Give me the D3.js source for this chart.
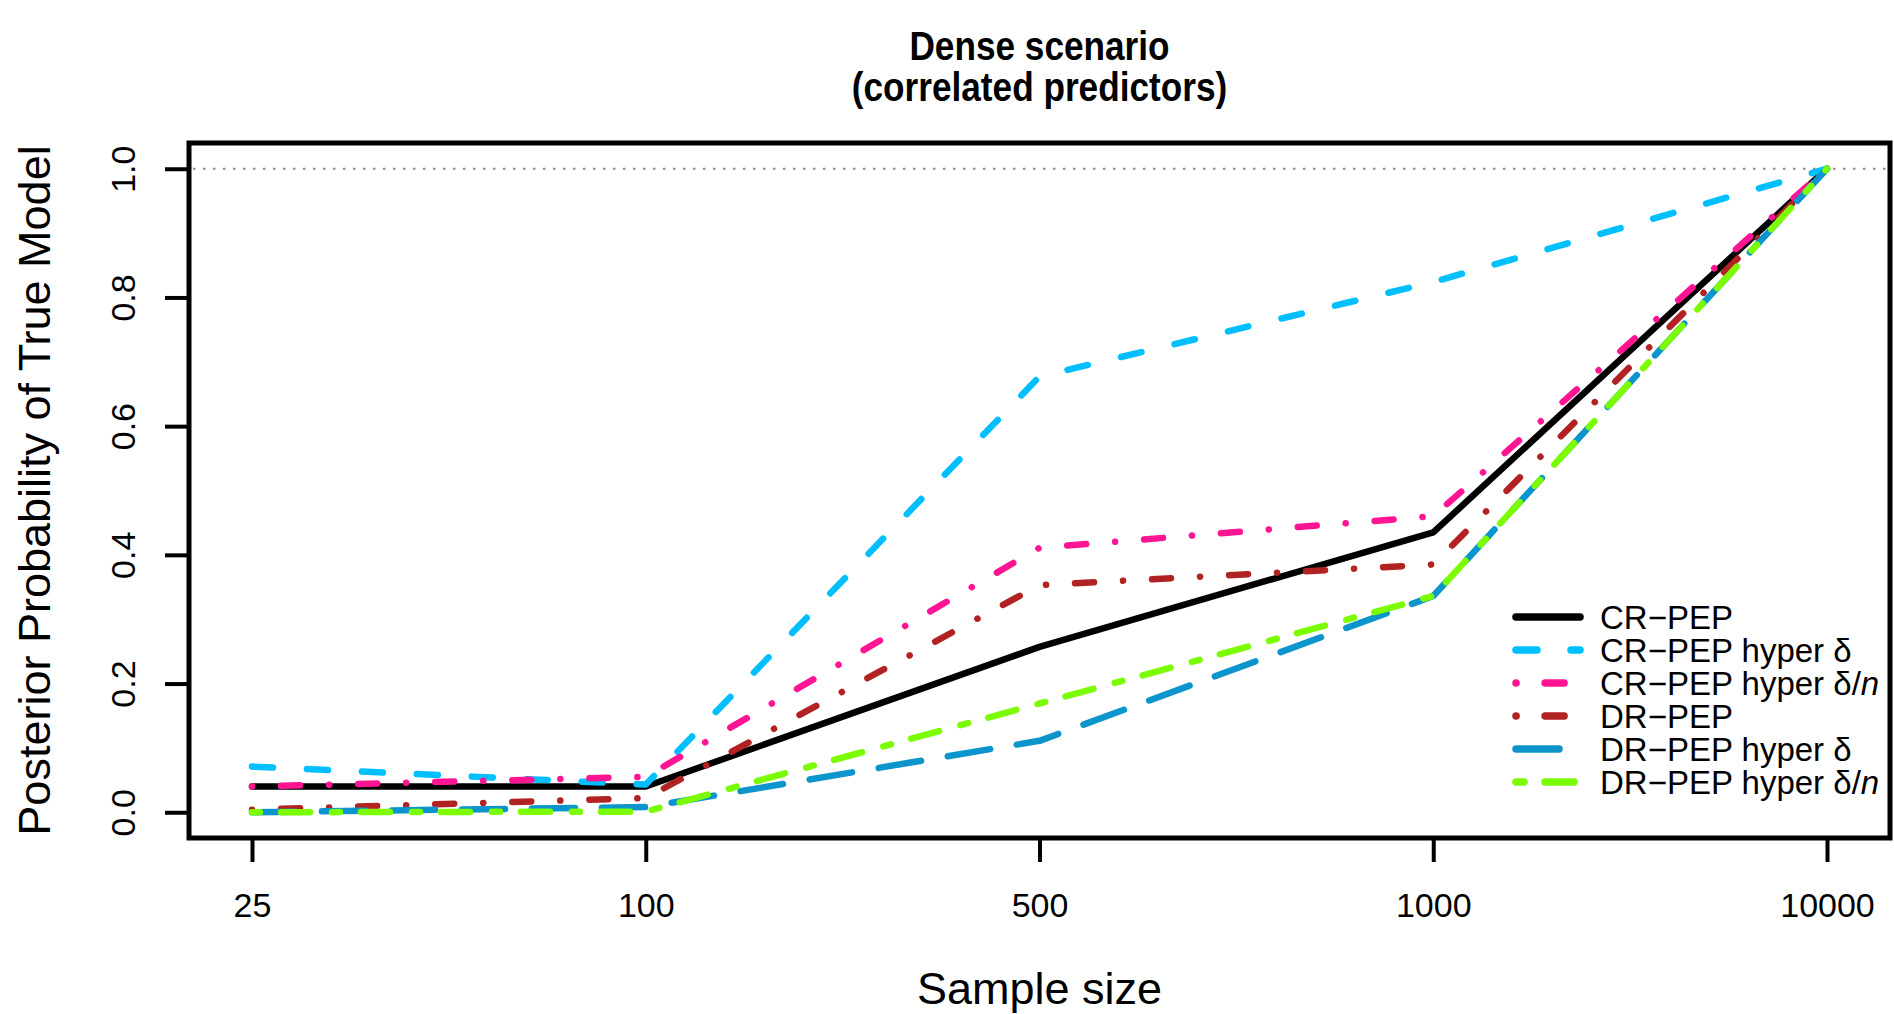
<!DOCTYPE html>
<html lang="en">
<head>
    <meta charset="UTF-8">
    <title>Dense scenario (correlated predictors)</title>
    <script src="https://d3js.org/d3.v7.min.js"></script>
    <style>
        body { margin: 0; background: #fff; font-family: "Liberation Sans", Arial, sans-serif; }
        svg text { font-family: "Liberation Sans", Arial, sans-serif; fill: #000; }
    </style>
</head>
<body>
    <div id="chart"></div>
    <script>
        // sample sizes (equally spaced categories on the x axis)
        const categories = ["25", "100", "500", "1000", "10000"];

        // posterior probability of the true model, one array per method
        const crPep       = [0.040, 0.040, 0.257, 0.435, 1.0];
        const crPepHyperD = [0.071, 0.043, 0.677, 0.824, 1.0];
        const crPepHyperN = [0.040, 0.055, 0.411, 0.460, 1.0];
        const drPep       = [0.004, 0.022, 0.353, 0.385, 1.0];
        const drPepHyperD = [0.000, 0.008, 0.111, 0.336, 1.0];
        const drPepHyperN = [0.000, 0.001, 0.169, 0.336, 1.0];

        const yTicks = [0, 0.2, 0.4, 0.6, 0.8, 1.0];

        const series = [
            { name: "CR\u2212PEP", hyper: null, values: crPep, color: "#000000", dash: null },
            { name: "CR\u2212PEP hyper ", hyper: "d", values: crPepHyperD, color: "#00BFFF", dash: "21,34" },
            { name: "CR\u2212PEP hyper ", hyper: "dn", values: crPepHyperN, color: "#FF1493", dash: "0.1,29,19,29" },
            { name: "DR\u2212PEP", hyper: null, values: drPep, color: "#B22222", dash: "0.1,29,19,29" },
            { name: "DR\u2212PEP hyper ", hyper: "d", values: drPepHyperD, color: "#0B95CC", dash: "43,27" },
            { name: "DR\u2212PEP hyper ", hyper: "dn", values: drPepHyperN, color: "#7CFC00", dash: "8,21,29,22" }
        ];

        const width = 1894;
        const height = 1014;
        const box = { left: 189, right: 1890, top: 143, bottom: 838 };
        const lw = 6.5;

        const svg = d3.select("#chart")
            .append("svg")
            .attr("width", width)
            .attr("height", height);

        const x = d3.scalePoint()
            .domain(categories)
            .range([box.left, box.right])
            .padding(0.16);

        // R style 4% padding around 0..1
        const y = d3.scaleLinear()
            .domain([-0.04, 1.04])
            .range([box.bottom, box.top]);

        // dotted reference line at 1
        svg.append("line")
            .attr("x1", box.left + 4)
            .attr("x2", box.right - 4)
            .attr("y1", y(1))
            .attr("y2", y(1))
            .attr("stroke", "#8a8a8a")
            .attr("stroke-width", 2)
            .attr("stroke-dasharray", "2.5,7.5");

        // lines
        const line = d3.line()
            .x((d, i) => x(categories[i]))
            .y(d => y(d));

        svg.selectAll(".series")
            .data(series)
            .join("path")
            .attr("class", "series")
            .attr("d", d => line(d.values))
            .attr("fill", "none")
            .attr("stroke", d => d.color)
            .attr("stroke-width", lw)
            .attr("stroke-linecap", "round")
            .attr("stroke-linejoin", "round")
            .attr("stroke-dasharray", d => d.dash);

        // box
        svg.append("rect")
            .attr("x", box.left)
            .attr("y", box.top)
            .attr("width", box.right - box.left)
            .attr("height", box.bottom - box.top)
            .attr("fill", "none")
            .attr("stroke", "#000")
            .attr("stroke-width", 5);

        // axes
        const yAxis = svg.append("g")
            .attr("transform", `translate(${box.left},0)`)
            .call(d3.axisLeft(y).tickValues(yTicks).tickSize(24).tickFormat(d3.format(".1f")));
        yAxis.select(".domain").remove();
        yAxis.selectAll(".tick line").attr("stroke", "#000").attr("stroke-width", 4);
        yAxis.selectAll(".tick text")
            .attr("x", null).attr("dy", null)
            .attr("transform", "translate(-54,0) rotate(-90)")
            .attr("text-anchor", "middle")
            .attr("font-size", 34);

        const xAxis = svg.append("g")
            .attr("transform", `translate(0,${box.bottom})`)
            .call(d3.axisBottom(x).tickSize(24));
        xAxis.select(".domain").remove();
        xAxis.selectAll(".tick line").attr("stroke", "#000").attr("stroke-width", 4);
        xAxis.selectAll(".tick text")
            .attr("y", 79).attr("dy", null)
            .attr("font-size", 34);

        // titles (the original font is a little condensed)
        const cx = (box.left + box.right) / 2;
        const title = svg.append("g")
            .attr("transform", `translate(${cx},0) scale(0.88,1)`);
        title.append("text")
            .attr("x", 0).attr("y", 60)
            .attr("text-anchor", "middle")
            .attr("font-size", 40).attr("font-weight", "bold")
            .text("Dense scenario");
        title.append("text")
            .attr("x", 0).attr("y", 101)
            .attr("text-anchor", "middle")
            .attr("font-size", 40).attr("font-weight", "bold")
            .text("(correlated predictors)");

        svg.append("text")
            .attr("x", cx).attr("y", 1004)
            .attr("text-anchor", "middle")
            .attr("font-size", 45)
            .text("Sample size");

        svg.append("text")
            .attr("transform", `translate(50,${(box.top + box.bottom) / 2}) rotate(-90)`)
            .attr("text-anchor", "middle")
            .attr("font-size", 45)
            .text("Posterior Probability of True Model");

        // legend
        const legend = svg.append("g");
        const rowY = (d, i) => 617 + i * 33;

        legend.selectAll(".key")
            .data(series)
            .join("line")
            .attr("x1", 1516).attr("x2", 1580)
            .attr("y1", rowY).attr("y2", rowY)
            .attr("stroke", d => d.color)
            .attr("stroke-width", lw + 1)
            .attr("stroke-linecap", "round")
            .attr("stroke-dasharray", d => d.dash);

        const labels = legend.selectAll(".lab")
            .data(series)
            .join("text")
            .attr("x", 1600)
            .attr("y", rowY)
            .attr("dy", "0.35em")
            .attr("font-size", 33);
        labels.append("tspan").text(d => d.name);
        labels.filter(d => d.hyper).append("tspan").text("\u03B4");
        labels.filter(d => d.hyper === "dn").append("tspan").text("/");
        labels.filter(d => d.hyper === "dn").append("tspan").attr("font-style", "italic").text("n");
    </script>
</body>
</html>
